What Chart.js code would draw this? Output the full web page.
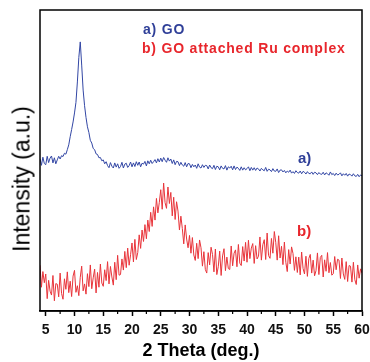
<!DOCTYPE html>
<html>
<head>
<meta charset="utf-8">
<script src="https://cdn.jsdelivr.net/npm/chart.js@4.4.1/dist/chart.umd.min.js"></script>
<style>
    html, body { margin: 0; padding: 0; background: #fff; }
    #wrap { position: relative; width: 370px; height: 362px; }
    .lbl {
        position: absolute;
        font-family: "Liberation Sans", Arial, sans-serif;
        font-weight: bold;
        white-space: nowrap;
        line-height: 1;
    }
    #yTitle {
        left: 21.5px; top: 179px;
        font-size: 23px; font-weight: normal; color: #000;
        transform: translate(-50%, -50%) rotate(-90deg);
    }
</style>
</head>
<body>
<div id="wrap">
    <canvas id="xrdChart" width="370" height="362"></canvas>
    <div class="lbl" id="yTitle">Intensity (a.u.)</div>
    <div class="lbl" style="left:143px; top:22px; font-size:14px; letter-spacing:0.8px; color:#2f3f98;">a) GO</div>
    <div class="lbl" style="left:142px; top:41px; font-size:14px; letter-spacing:0.8px; color:#e8262c;">b) GO attached Ru complex</div>
    <div class="lbl" style="left:298px; top:150px; font-size:15px; color:#2f3f98;">a)</div>
    <div class="lbl" style="left:297px; top:223px; font-size:15px; color:#e8262c;">b)</div>
</div>
<script>
// 2 theta sampling grid (deg.)
const twoThetaStart = 4;
const twoThetaStep = 0.25;

// a) GO  (one row per degree, 4 samples each)
const goIntensity = [
    50.6, 48.4, 51.1, 49.0,  48.6, 51.4, 49.3, 50.8,  51.5, 49.2, 50.9, 48.9,
    50.2, 51.4, 50.5, 51.6,  51.3, 52.4, 52.1, 53.6,  55.2, 57.9, 60.3, 62.8,
    65.8, 69.3, 76.1, 84.2,  89.4, 81.7, 73.4, 68.2,  64.3, 61.2, 59.3, 56.7,
    55.8, 54.0, 53.6, 52.2,  52.0, 50.9, 51.0, 49.9,  50.2, 48.9, 49.6, 48.3,
    47.6, 49.3, 48.1, 47.5,  49.2, 47.8, 48.9, 47.4,  48.0, 49.4, 47.5, 48.8,
    49.1, 47.7, 48.3, 49.5,  47.9, 49.2, 48.0, 49.6,  48.4, 49.5, 47.9, 49.1,
    48.8, 49.7, 48.2, 49.9,  48.9, 50.1, 49.0, 49.6,  50.3, 49.2, 50.6, 49.5,
    50.8, 49.6, 51.0, 50.1,  49.4, 50.9, 49.8, 50.5,  49.0, 50.2, 48.6, 49.7,
    49.6, 48.3, 49.4, 48.5,  48.1, 49.3, 47.9, 49.0,  48.9, 47.6, 48.7, 47.9,
    48.5, 47.4, 48.9, 47.8,  47.5, 48.6, 47.7, 48.4,  48.3, 47.2, 48.5, 47.6,
    47.3, 48.4, 47.0, 48.1,  47.9, 46.9, 48.2, 47.4,  47.2, 48.3, 46.8, 47.9,
    47.5, 48.1, 46.9, 48.2,  47.0, 47.8, 47.4, 46.7,  47.9, 46.8, 47.6, 46.9,
    47.3, 47.9, 46.6, 47.7,  46.8, 47.6, 46.7, 47.5,  47.2, 46.5, 47.4, 46.9,
    46.6, 47.7, 46.4, 47.1,  46.9, 46.3, 47.3, 46.5,  46.4, 47.2, 46.0, 46.8,
    46.9, 46.2, 46.7, 45.9,  46.5, 46.1, 46.8, 45.8,  46.3, 45.7, 46.6, 46.0,
    45.8, 46.5, 45.6, 46.4,  46.1, 45.5, 46.3, 45.7,  45.6, 46.2, 45.4, 46.1,
    45.9, 45.3, 46.0, 45.5,  45.4, 46.1, 45.2, 45.9,  45.6, 45.1, 46.2, 45.3,
    45.7, 45.0, 45.8, 45.2,  45.4, 45.9, 44.9, 45.6,  45.1, 45.7, 44.8, 45.5,
    45.3, 44.8, 45.6, 44.9,  44.7, 45.4, 44.6, 45.2,
    44.9
];

// b) GO attached Ru complex
const goRuIntensity = [
    15.2, 7.9, 13.1, 9.4,   12.3, 4.1, 10.2, 6.6,   5.3, 11.8, 3.4, 9.1,
    8.9, 4.7, 12.6, 5.8,    3.9, 10.7, 7.2, 13.0,   6.1, 9.9, 4.8, 11.6,
    13.5, 6.2, 8.4, 5.1,    11.2, 14.9, 6.7, 9.0,   5.6, 12.4, 8.1, 15.3,
    7.4, 11.0, 13.9, 6.0,   12.8, 7.9, 15.6, 9.3,   8.2, 13.7, 10.1, 16.4,
    9.0, 14.8, 11.3, 8.6,   16.2, 10.4, 18.5, 11.9, 12.1, 17.3, 13.6, 19.8,
    14.4, 20.9, 15.2, 18.7, 22.6, 16.3, 23.8, 17.1, 19.4, 25.3, 20.8, 26.9,
    23.1, 28.7, 24.0, 30.2, 26.4, 32.8, 28.1, 34.6, 30.2, 37.4, 32.6, 36.1,
    40.3, 33.8, 42.5, 36.0, 34.1, 41.2, 35.7, 39.4, 31.6, 37.8, 30.4, 36.3,
    33.2, 26.9, 31.5, 27.4, 22.3, 28.6, 23.9, 21.0, 25.1, 19.2, 24.4, 18.6,
    16.8, 22.5, 17.4, 23.6, 21.0, 14.9, 19.7, 13.8, 12.6, 19.4, 15.3, 21.2,
    18.8, 13.0, 20.6, 12.1, 14.7, 19.9, 11.8, 18.3, 20.7, 13.4, 17.9, 14.1,
    13.8, 21.6, 15.0, 19.2, 20.3, 14.7, 22.1, 15.9, 15.1, 21.4, 16.6, 22.8,
    16.2, 23.5, 17.4, 20.9, 22.4, 15.8, 21.7, 17.3, 18.2, 24.6, 16.9, 22.0,
    23.7, 17.1, 25.9, 18.4, 17.5, 24.1, 19.2, 26.4, 22.8, 16.9, 25.0, 17.6,
    21.5, 15.4, 22.9, 16.2, 13.1, 20.4, 15.6, 21.3, 19.1, 13.5, 18.0, 12.8,
    17.9, 12.0, 19.6, 14.1, 12.3, 18.2, 11.5, 17.4, 18.8, 12.6, 16.9, 11.7,
    13.4, 19.3, 12.1, 17.8, 18.5, 11.3, 17.0, 13.2, 19.4, 12.7, 16.1, 11.9,
    12.4, 18.1, 13.7, 17.2, 16.9, 10.8, 17.6, 12.3, 10.5, 16.4, 9.8, 15.1,
    14.9, 9.6, 16.2, 10.4,  8.8, 15.3, 10.9, 14.0,
    12.6
];

const xTickValues = [5, 10, 15, 20, 25, 30, 35, 40, 45, 50, 55, 60];
const xMinorValues = [7.5, 12.5, 17.5, 22.5, 27.5, 32.5, 37.5, 42.5, 47.5, 52.5, 57.5];

function toPoints(values) {
    return values.map((v, i) => ({ x: twoThetaStart + i * twoThetaStep, y: v }));
}

// box round the plot + short minor ticks
const framePlugin = {
    id: 'frame',
    afterDraw(chart) {
        const { ctx, chartArea: a } = chart;
        const x = chart.scales.x;
        ctx.save();
        ctx.strokeStyle = '#000';
        ctx.lineWidth = 1.5;
        ctx.strokeRect(a.left, a.top, a.right - a.left, a.bottom - a.top);
        ctx.lineWidth = 1.2;
        xMinorValues.forEach(v => {
            const px = x.getPixelForValue(v);
            ctx.beginPath();
            ctx.moveTo(px, a.bottom);
            ctx.lineTo(px, a.bottom + 3);
            ctx.stroke();
        });
        ctx.restore();
    }
};

new Chart(document.getElementById('xrdChart'), {
    type: 'line',
    data: {
        datasets: [
            {
                label: 'a) GO',
                data: toPoints(goIntensity),
                borderColor: '#3246a4',
                borderWidth: 1,
                pointRadius: 0,
                tension: 0
            },
            {
                label: 'b) GO attached Ru complex',
                data: toPoints(goRuIntensity),
                borderColor: '#e8343a',
                borderWidth: 1,
                pointRadius: 0,
                tension: 0
            }
        ]
    },
    options: {
        responsive: false,
        animation: false,
        layout: { padding: { left: 40, right: 8, top: 10, bottom: 0 } },
        plugins: {
            legend: { display: false },
            tooltip: { enabled: false }
        },
        scales: {
            x: {
                type: 'linear',
                min: 4,
                max: 60,
                afterBuildTicks: axis => { axis.ticks = xTickValues.map(v => ({ value: v })); },
                afterFit: axis => {
                    axis.height = 51;
                    axis.paddingLeft = 0;
                    axis.paddingRight = 0;
                },
                ticks: {
                    autoSkip: false,
                    maxRotation: 0,
                    padding: 6,
                    color: '#111',
                    font: { family: 'Liberation Sans', size: 14, weight: 'bold' }
                },
                grid: {
                    drawOnChartArea: false,
                    tickLength: 5,
                    tickColor: '#000',
                    tickWidth: 1.5
                },
                border: { display: true, color: '#000', width: 1.5 },
                title: {
                    display: true,
                    text: '2 Theta (deg.)',
                    color: '#000',
                    padding: { top: 0, bottom: 0 },
                    font: { family: 'Liberation Sans', size: 18, weight: 'bold' }
                }
            },
            y: {
                display: false,
                min: 0,
                max: 100
            }
        }
    },
    plugins: [framePlugin]
});
</script>
</body>
</html>
